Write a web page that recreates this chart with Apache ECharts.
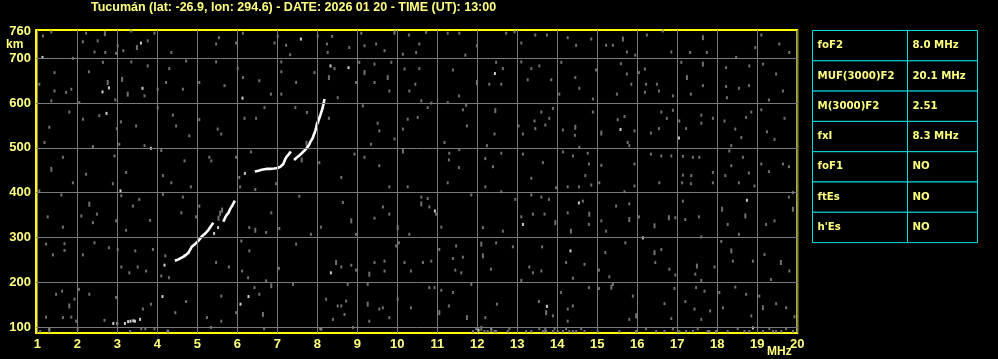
<!DOCTYPE html>
<html><head><meta charset="utf-8">
<script src="https://cdn.jsdelivr.net/npm/echarts@6/dist/echarts.min.js"></script>
<style>html,body{margin:0;padding:0;background:#000;}#c{width:998px;height:359px;}</style>
</head><body><div id="c"></div>
<script>
const titleText = 'Tucumán (lat: -26.9, lon: 294.6) - DATE: 2026 01 20 - TIME (UT): 13:00';
const freqTicks = [1,2,3,4,5,6,7,8,9,10,11,12,13,14,15,16,17,18,19,20];
const heightGrid = [100,200,300,400,500,600,700];
const heightLabels = [100,200,300,400,500,600,700,760];
const tableNames = ['foF2','MUF(3000)F2','M(3000)F2','fxI','foF1','ftEs',"h'Es"];
const tableValues = ['8.0 MHz','20.1 MHz','2.51','8.3 MHz','NO','NO','NO'];

// white echo trace segments (frequency MHz, virtual height km)
const traceLowA = [[4.44,248],[4.53,251],[4.69,259],[4.78,266],[4.86,279],[4.94,285],[5.03,293],[5.11,302],[5.19,308],[5.28,317],[5.33,324],[5.4,333]];
const traceLowB = [[5.65,335],[5.69,343],[5.73,350],[5.78,355],[5.83,365],[5.88,372],[5.94,382]];
const traceMid = [[6.44,447],[6.53,449],[6.61,451],[6.72,453],[6.82,453],[6.92,454],[7.0,455],[7.08,458],[7.15,464],[7.19,473],[7.23,480],[7.29,486],[7.34,492]];
const traceHigh = [[7.42,473],[7.48,478],[7.55,483],[7.61,488],[7.68,494],[7.73,499],[7.79,506],[7.83,514],[7.88,521],[7.92,531],[7.95,538],[8.0,555],[8.04,564],[8.08,574],[8.13,588],[8.15,596],[8.18,609]];
const whiteDots = [[6.19,443],[2.9,108],[3.0,108],[3.19,108],[3.27,112],[3.33,113],[3.4,114],[3.44,113],[3.57,117],[4.13,168],[6.08,151],[6.28,168],[4.18,238],[3.08,404],[1.13,702],[3.59,734],[7.59,743],[2.63,625],[2.79,634],[3.63,633],[2.73,577],[3.84,499],[6.13,611],[8.33,683],[8.78,679],[12.44,666],[15.58,541],[17.04,522],[10.94,359],[14.54,377],[13.14,329],[16.14,299],[14.33,270],[18.74,383],[13.74,146],[12.03,93],[18.89,98],[8.34,221],[5.42,309],[4.68,259],[5.52,322]];

// grey noise dots
const noiseDots = [[1.14,750],[1.35,759],[2.22,756],[3.35,761],[3.93,756],[5.54,746],[6.14,756],[7.01,749],[8.01,750],[8.37,749],[9.1,756],[10.29,752],[2.14,737],[2.51,739],[3.01,728],[3.76,739],[2.43,714],[2.7,713],[2.97,711],[3.15,717],[4.35,713],[5.47,732],[5.97,734],[6.93,734],[7.22,729],[7.32,708],[8.24,732],[8.26,713],[8.8,724],[9.18,728],[9.47,732],[9.68,717],[10.14,709],[10.47,713],[1.89,700],[2.64,691],[3.35,692],[3.76,683],[4.3,677],[4.72,694],[5.47,692],[6.01,677],[7.1,692],[7.1,670],[8.43,677],[9.05,691],[9.43,687],[9.85,691],[10.18,676],[1.43,668],[2.29,670],[1.05,642],[1.43,627],[1.72,624],[1.85,631],[1.35,605],[2.05,601],[2.95,607],[3.68,616],[4.01,631],[4.22,646],[4.64,631],[5.05,646],[5.68,639],[6.14,657],[6.55,650],[6.84,620],[7.1,620],[7.47,646],[7.93,668],[8.51,612],[8.97,646],[9.43,646],[9.8,627],[10.3,627],[10.45,642],[1.8,580],[2.14,564],[2.55,572],[2.99,543],[3.09,558],[3.47,549],[4.01,590],[4.39,573],[4.47,549],[5.05,563],[5.51,542],[5.6,531],[6.18,566],[6.47,566],[6.68,590],[7.45,590],[7.74,579],[8.29,566],[9.14,594],[9.51,555],[9.55,538],[9.93,520],[10.26,564],[10.14,542],[1.3,546],[1.18,512],[2.39,503],[3.05,508],[3.68,505],[4.1,494],[4.8,527],[4.68,471],[5.3,479],[5.97,479],[6.34,491],[8.05,467],[8.6,434],[8.93,486],[9.18,479],[9.34,508],[9.55,460],[1.64,479],[2.22,441],[2.93,482],[3.22,445],[4.14,438],[5.35,471],[6.05,434],
[10.55,732],[10.72,758],[11.26,756],[11.55,756],[11.7,707],[11.99,728],[12.72,756],[12.93,759],[13.1,734],[13.45,752],[13.74,752],[14.26,746],[14.47,729],[14.85,743],[15.22,729],[15.39,729],[15.74,714],[15.95,707],[16.24,752],[16.64,761],[16.85,714],[17.32,713],[17.74,713],[18.47,702],[18.95,724],[19.1,752],[19.55,732],[19.8,713],[10.55,677],[11.39,674],[12.47,691],[12.64,677],[12.3,642],[12.6,642],[13.1,692],[13.35,677],[13.55,683],[13.26,652],[13.85,652],[14.1,691],[14.45,657],[14.55,633],[14.05,620],[14.97,674],[14.89,609],[15.49,620],[15.59,688],[15.74,665],[15.85,642],[16.04,668],[16.19,676],[16.22,642],[16.19,624],[16.49,642],[16.54,627],[16.89,616],[17.1,691],[17.34,620],[17.64,639],[18.22,679],[18.22,637],[18.24,612],[18.54,633],[18.8,683],[18.79,639],[19.14,687],[19.47,665],[19.64,627],[19.29,607],[10.6,605],[10.85,600],[10.76,590],[11.54,616],[11.26,601],[11.72,595],[11.64,585],[10.51,568],[11.74,549],[12.43,531],[13.03,549],[13.14,531],[13.43,560],[13.45,543],[13.6,580],[13.7,551],[13.8,566],[13.89,588],[14.14,540],[14.44,528],[14.89,580],[15.51,563],[15.68,570],[15.93,538],[15.76,512],[15.8,505],[16.34,533],[16.6,580],[16.74,566],[16.54,543],[16.89,584],[17.05,560],[17.22,543],[17.6,573],[17.6,555],[17.89,566],[18.18,560],[18.45,542],[18.6,523],[18.72,568],[18.85,580],[19.1,585],[19.24,536],[19.43,519],[19.68,566],[11.18,512],[11.3,488],[11.55,496],[11.29,473],[11.54,456],[12.24,505],[12.2,476],[12.6,488],[12.39,458],[13.14,486],[13.35,432],[13.64,467],[14.14,491],[14.39,482],[14.55,501],[14.76,488],[14.79,464],[14.7,438],[15.1,461],[15.93,464],[16.34,486],[16.6,482],[16.85,482],[17.14,481],[17.39,479],[17.14,439],[17.35,438],[17.55,479],[17.89,445],[18.2,438],[18.35,460],[18.64,479],[18.79,444],[19.1,464],[19.29,447],[19.64,464],[19.79,458],[18.3,493],[18.35,505],
[1.05,404],[1.6,395],[1.89,422],[2.89,420],[3.1,393],[3.39,370],[3.55,385],[4.14,396],[4.64,390],[5.05,370],[4.35,422],[4.84,413],[6.07,413],[6.45,407],[6.97,420],[7.55,392],[8.64,378],[9.64,368],[9.8,413],[10.26,413],[1.26,346],[2.1,348],[2.49,352],[1.64,323],[2.39,333],[2.97,337],[3.22,316],[3.82,338],[4.6,355],[4.97,346],[6.3,322],[6.72,311],[6.85,355],[7.05,320],[7.84,307],[8.09,323],[8.97,307],[9.43,343],[9.8,352],[10.04,288],[10.3,307],[1.22,285],[1.68,286],[1.68,271],[1.39,261],[2.14,261],[2.43,288],[2.79,277],[3.01,273],[3.45,270],[3.89,273],[4.2,259],[3.1,234],[3.72,225],[3.3,221],[3.51,234],[4.29,210],[4.1,214],[5.47,244],[5.79,234],[6.1,292],[6.3,270],[6.12,225],[6.27,210],[6.72,203],[7.04,231],[7.47,285],[8.6,234],[8.85,238],[8.97,227],[9.43,244],[9.68,247],[9.68,225],[9.97,281],[10.18,244],[10.34,225],[1.47,173],[1.62,180],[1.93,162],[2.04,184],[2.3,173],[1.22,122],[1.64,121],[1.85,122],[1.97,113],[1.3,95],[2.68,115],[2.97,166],[3.64,140],[3.84,151],[4.45,132],[4.72,157],[5.24,121],[5.6,169],[5.6,113],[5.97,132],[6.43,188],[6.55,173],[7.39,195],[8.22,162],[8.39,117],[8.51,147],[8.6,147],[8.72,158],[8.68,128],[8.76,195],[9.26,195],[9.55,140],[9.64,143],[9.3,113],[9.8,121],[10.01,162],[10.34,143],[8.89,99],[8.1,95],[5.34,99],[4.26,91],[2.01,95],
[10.6,390],[10.76,387],[10.8,368],[11.26,422],[11.85,395],[12.2,413],[12.6,402],[12.95,385],[13.35,395],[13.6,390],[13.79,385],[13.97,411],[14.26,413],[14.54,413],[14.85,417],[15.05,422],[15.93,415],[15.68,402],[16.55,422],[17.12,422],[17.34,420],[17.89,422],[18.54,422],[18.93,415],[19.89,400],[10.97,352],[11.1,323],[12.14,322],[12.64,314],[13.1,346],[13.39,352],[13.68,352],[14.26,355],[14.64,381],[14.79,329],[15.1,337],[15.22,314],[15.47,370],[15.8,375],[16.04,346],[16.95,344],[17.14,381],[17.2,340],[17.54,346],[17.6,301],[18.26,329],[18.54,307],[19.22,329],[19.43,337],[19.79,390],[10.64,244],[10.85,247],[11.05,273],[11.47,281],[11.39,253],[11.64,256],[11.45,227],[11.6,221],[12.34,229],[12.47,288],[12.89,279],[13.1,204],[13.3,234],[13.39,221],[13.62,279],[13.6,225],[14.22,244],[14.39,209],[14.68,240],[15.04,227],[15.2,266],[15.3,212],[15.7,288],[16.6,273],[16.45,244],[16.95,216],[16.8,229],[17.45,218],[17.6,204],[17.93,234],[18.1,291],[18.39,247],[18.89,247],[19.18,262],[19.34,206],[19.8,225],[10.8,188],[10.93,188],[11.1,182],[11.39,177],[11.29,147],[11.85,195],[12.2,121],[12.49,151],[13.54,157],[13.89,125],[14.09,177],[14.26,140],[14.39,147],[14.26,113],[14.79,188],[15.04,186],[15.39,195],[15.89,169],[15.8,117],[16.68,152],[16.85,119],[16.93,186],[17.2,157],[17.47,188],[17.68,180],[17.43,140],[17.82,136],[17.6,117],[18.05,177],[18.14,143],[18.45,189],[18.72,173],[19.05,169],[19.47,152],[19.72,143],[18.85,125],[19.93,123],
[11.89,90],[11.97,96],[12.18,90],[12.26,90],[12.35,96],[12.43,90],[12.47,90],[12.76,90],[12.8,96],[13.22,90],[13.35,90],[13.55,96],[13.64,90],[13.72,90],[13.89,90],[13.93,96],[14.01,90],[14.14,90],[14.22,96],[14.3,90],[14.39,90],[14.47,90],[14.6,96],[14.68,90],[15.01,90],[15.55,90],[15.97,90],[16.22,96],[16.47,90],[16.68,90],[16.89,96],[17.05,90],[17.22,90],[17.39,90],[17.51,96],[17.76,90],[17.8,90],[17.97,90],[18.26,90],[18.51,96],[18.68,90],[18.8,90],[19.14,90],[19.3,96],[19.39,90],[19.47,90],[19.6,90],[19.72,96],[19.89,90],
[1.07,90],[3.32,90],[3.6,96],[3.7,96],[3.93,96],[4.27,90],[6.67,96],[8.07,96]];
const noiseDashes = [[2.69,755],[9.93,758],[3.49,724],[3.12,653],[2.76,646],[3.26,620],[8.29,657],[9.18,668],[9.76,657],[10.14,493],[1.35,452],
[15.64,743],[17.64,746],[11.99,646],[17.24,657],[17.64,687],[12.45,583],[14.45,546],[15.1,533],
[2.3,374],[6.45,316],[8.85,337],[10.01,322],[8.47,244],[9.3,218],[1.8,147],[6.64,128],[6.85,192],[9.26,151],
[10.6,375],[13.95,333],[14.34,314],[14.8,352],[15.8,340],[16.43,326],[16.79,344],[18.12,363],[18.7,348],[19.89,363],[12.1,285],[12.14,259],[15.35,189],[16.43,266],[17.49,236],[18.35,270],[19.59,244],[11.05,132],[11.74,121],[13.72,132],[15.97,125],[19.14,143],
[5.57,354],[5.62,361],[5.53,343],[8.03,559],[7.98,551],[7.73,510],[7.61,473],[1.3,92],[12.1,97],[12.35,94],[13.7,94]];

const LY = '#ffff80';
const GREY = '#8c8c8c';

const graphic = [
  {type:'text', left:91, top:1, style:{text:titleText, fill:LY, font:'bold 12.5px "Liberation Sans"'}},
  {type:'text', left:6, top:39, style:{text:'km', fill:LY, font:'bold 12px "Liberation Sans"'}},
  {type:'text', left:767, top:346, style:{text:'MHz', fill:LY, font:'bold 12px "Liberation Sans"'}}
];
const tx0 = 812.5, tx1 = 907.5, tx2 = 977.5, ty0 = 30.5, rh = 30.3;
tableNames.forEach((nm, i) => {
  const y = ty0 + i*rh;
  graphic.push({type:'rect', shape:{x:tx0, y:y, width:tx1-tx0, height:rh}, style:{fill:'#000', stroke:'#00e0e0', lineWidth:1}});
  graphic.push({type:'rect', shape:{x:tx1, y:y, width:tx2-tx1, height:rh}, style:{fill:'#000', stroke:'#00e0e0', lineWidth:1}});
  graphic.push({type:'text', x:tx0+5, y:y+rh/2, style:{text:nm, fill:LY, font:'bold 10.2px "DejaVu Sans"', verticalAlign:'middle'}});
  graphic.push({type:'text', x:tx1+5, y:y+rh/2, style:{text:tableValues[i], fill:LY, font:'bold 10.2px "DejaVu Sans"', verticalAlign:'middle'}});
});

function traceSeries(data){
  return {type:'line', data:data, showSymbol:false, symbol:'none', silent:true, z:3,
    lineStyle:{color:'#ffffff', width:2.6}, itemStyle:{color:'#ffffff'}};
}

const chart = echarts.init(document.getElementById('c'), null, {renderer:'canvas'});
chart.setOption({
  animation:false,
  backgroundColor:'#000',
  graphic: graphic,
  grid:{left:36, top:30, width:761.3, height:303, show:true, borderColor:'#ffff00', borderWidth:2, backgroundColor:'#000'},
  xAxis:{type:'value', min:0.9675, max:20, axisLine:{show:false}, axisTick:{show:false}, splitLine:{show:false},
    axisLabel:{customValues:freqTicks, color:LY, fontFamily:'Liberation Sans', fontWeight:'bold', fontSize:13, margin:5}},
  yAxis:{type:'value', min:86.6, max:763.2, axisLine:{show:false}, axisTick:{show:false}, splitLine:{show:false},
    axisLabel:{customValues:heightLabels, color:LY, fontFamily:'Liberation Sans', fontWeight:'bold', fontSize:13, margin:5}},
  series:[
    {type:'scatter', data:[], silent:true, z:1,
      markLine:{silent:true, symbol:'none', label:{show:false}, animation:false,
        lineStyle:{color:'#7a7a7a', width:1, type:'solid'},
        data: freqTicks.map(v=>({xAxis:v})).concat(heightGrid.map(v=>({yAxis:v})))}},
    {type:'scatter', data:noiseDots, symbol:'rect', symbolSize:[2,3], itemStyle:{color:GREY}, silent:true, z:2},
    {type:'scatter', data:noiseDashes, symbol:'rect', symbolSize:[2,5], itemStyle:{color:GREY}, silent:true, z:2},
    traceSeries(traceLowA), traceSeries(traceLowB), traceSeries(traceMid), traceSeries(traceHigh),
    {type:'scatter', data:whiteDots, symbol:'rect', symbolSize:[2,3], itemStyle:{color:'#ffffff'}, silent:true, z:3}
  ]
});
</script></body></html>
